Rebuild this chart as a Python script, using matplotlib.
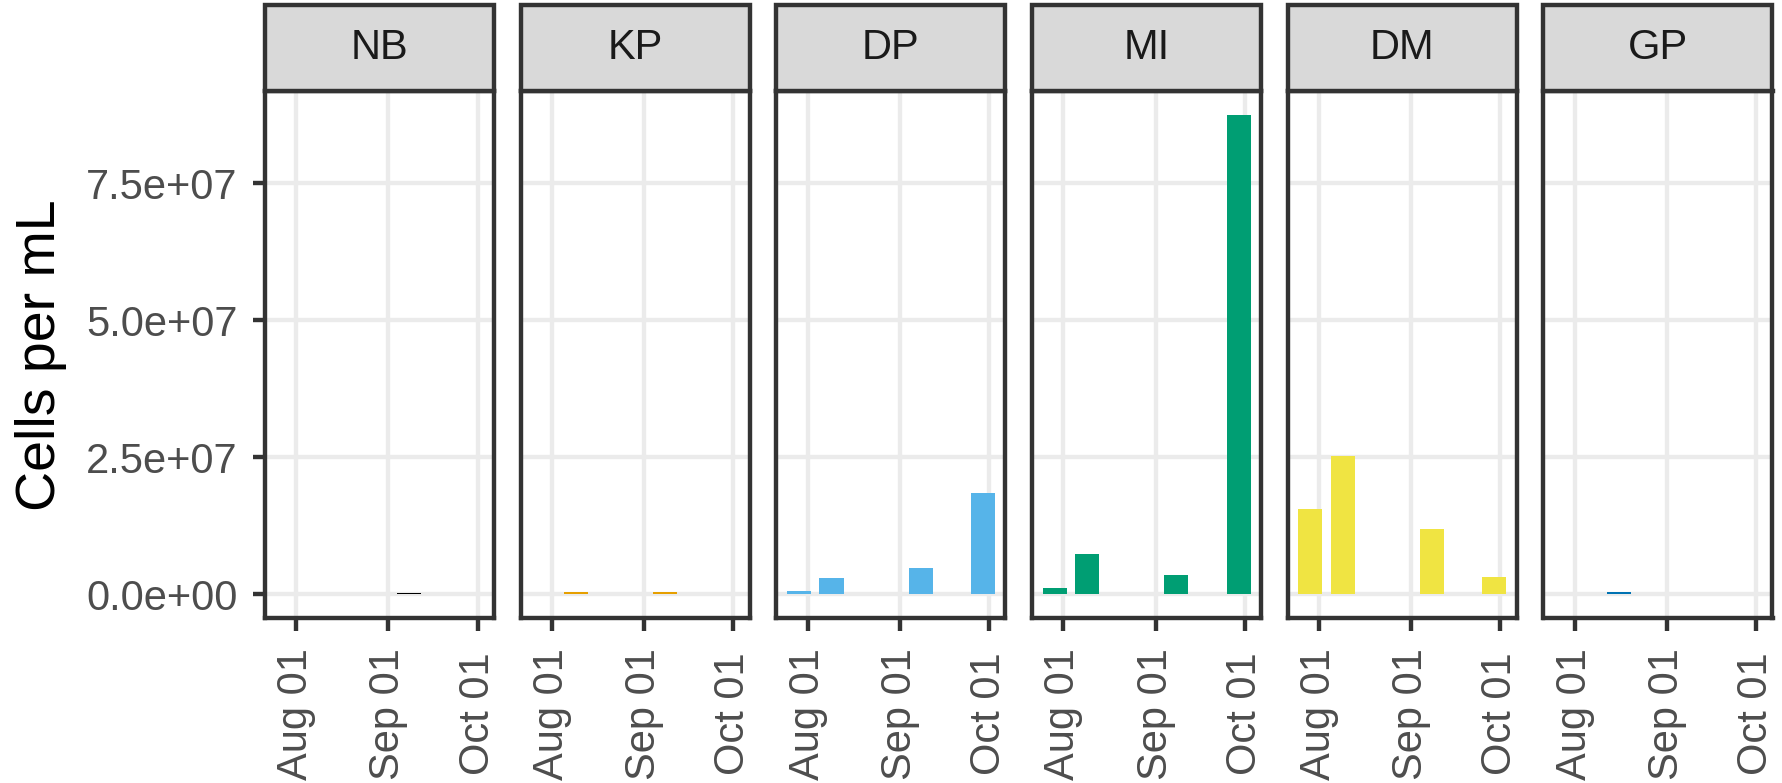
import matplotlib
matplotlib.use("Agg")
import matplotlib.pyplot as plt
import matplotlib.dates as mdates
import numpy as np
import pandas as pd
from matplotlib.patches import Rectangle

plt.rcParams['font.family'] = ['Liberation Sans', 'DejaVu Sans']

# ---------------- data ----------------
sites = ["NB", "KP", "DP", "MI", "DM", "GP"]
site_colors = ["#000000", "#E69F00", "#56B4E9", "#009E73", "#F0E442", "#0072B2"]

nb_dates = ["2019-09-08"]
nb_cells = [1.0e5]
kp_dates = ["2019-08-09", "2019-09-08"]
kp_cells = [4.0e5, 4.0e5]
dp_dates = ["2019-07-29", "2019-08-09", "2019-09-08", "2019-09-29"]
dp_cells = [5.0e5, 2.9e6, 4.7e6, 1.85e7]
mi_dates = ["2019-07-29", "2019-08-09", "2019-09-08", "2019-09-29"]
mi_cells = [1.1e6, 7.4e6, 3.4e6, 8.75e7]
dm_dates = ["2019-07-29", "2019-08-09", "2019-09-08", "2019-09-29"]
dm_cells = [1.56e7, 2.53e7, 1.19e7, 3.2e6]
gp_dates = ["2019-08-16"]
gp_cells = [4.0e5]

site_dates = [nb_dates, kp_dates, dp_dates, mi_dates, dm_dates, gp_dates]
site_cells = [nb_cells, kp_cells, dp_cells, mi_cells, dm_cells, gp_cells]

y_ticks = [0, 2.5e7, 5.0e7, 7.5e7]
y_tick_labels = ["0.0e+00", "2.5e+07", "5.0e+07", "7.5e+07"]
x_ticks = ["2019-08-01", "2019-09-01", "2019-10-01"]
x_tick_labels = ["Aug 01", "Sep 01", "Oct 01"]
y_title = "Cells per mL"

bar_width_days = 8.1

# ---------------- style ----------------
W, H = 1783, 783
PX = 72 / 100.0  # points per pixel at dpi 100
LW = 4.4 * PX
grid_col = "#EBEBEB"
dark = "#333333"
tick_txt = "#4D4D4D"
tick_size = 30.0

fig = plt.figure(figsize=(W / 100, H / 100), dpi=100)
axes = fig.subplots(1, 6, sharey=True)
panel_w = 229.0
gap = 26.7
fig.subplots_adjust(left=265 / W, right=(265 + 6 * panel_w + 5 * gap) / W,
                    bottom=1 - 618 / H, top=1 - 91 / H, wspace=gap / panel_w)

all_dates = [mdates.date2num(pd.Timestamp(d)) for ds in site_dates for d in ds]
xmin = min(all_dates) - bar_width_days / 2
xmax = max(all_dates) + bar_width_days / 2
xr = xmax - xmin
all_cells = [c for cs in site_cells for c in cs]
ymax = max(all_cells)

panel_h_px = 618 - 91
strip_h_px = 86

for ax, name, col, ds, cs in zip(axes, sites, site_colors, site_dates, site_cells):
    x = [mdates.date2num(pd.Timestamp(d)) for d in ds]
    ax.bar(x, cs, width=bar_width_days, color=col, linewidth=0, zorder=2)
    ax.set_xlim(xmin - 0.05 * xr, xmax + 0.05 * xr)
    ax.set_ylim(-0.05 * ymax, ymax * 1.05)
    ax.set_axisbelow(True)
    ax.grid(True, color=grid_col, linewidth=LW, zorder=0)
    for s in ax.spines.values():
        s.set_color(dark)
        s.set_linewidth(LW)
        s.set_zorder(5)
    ax.set_xticks([mdates.date2num(pd.Timestamp(d)) for d in x_ticks])
    ax.set_xticklabels(x_tick_labels, rotation=90, ha="center", va="center")
    ax.set_yticks(y_ticks)
    ax.tick_params(axis="both", length=12.5 * PX, width=LW, color=dark,
                   labelcolor=tick_txt, labelsize=tick_size)
    ax.tick_params(axis="x", pad=(714 - 618 - 12.5) * PX)
    ax.tick_params(axis="y", pad=15 * PX)
    # strip
    sh = strip_h_px / panel_h_px
    ax.add_patch(Rectangle((0, 1), 1, sh, transform=ax.transAxes, clip_on=False,
                           facecolor="#D9D9D9", edgecolor=dark, linewidth=LW, zorder=6))
    ax.text(0.5, 1 + sh / 2, name, transform=ax.transAxes, ha="center", va="center",
            fontsize=tick_size, color="#1A1A1A", zorder=7)

axes[0].set_yticklabels(y_tick_labels)
for ax in axes[1:]:
    ax.tick_params(axis="y", left=False, labelleft=False)

fig.text(41 / W, 1 - 355 / H, y_title, rotation=90, ha="center", va="center",
         fontsize=40.0, color="black")

fig.savefig("out.png", dpi=100, facecolor="white")
